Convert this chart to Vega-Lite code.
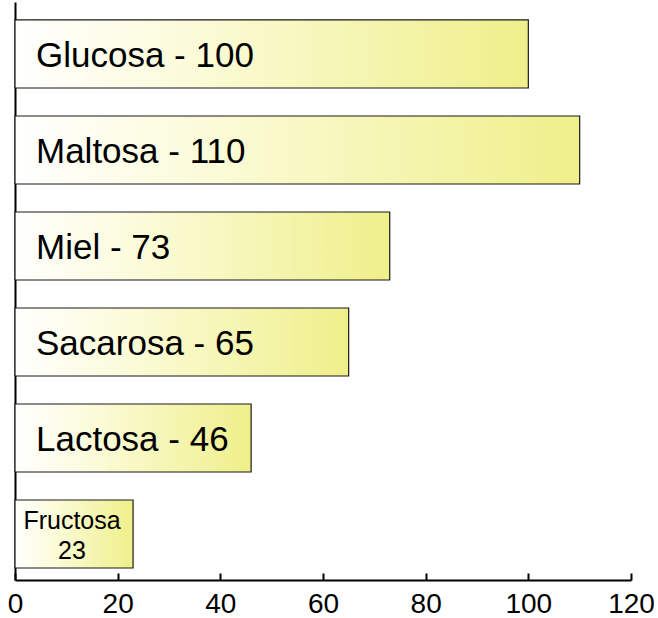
{
  "$schema": "https://vega.github.io/schema/vega-lite/v6.json",
  "width": 616,
  "height": 578,
  "autosize": {"type": "none"},
  "padding": {"left": 15, "top": 2, "right": 27, "bottom": 38},
  "background": "white",
  "config": {"view": {"stroke": null}, "font": "Liberation Sans"},
  "data": {
    "values": [
      {"name": "Glucosa", "value": 100, "label": "Glucosa - 100", "small": false},
      {"name": "Maltosa", "value": 110, "label": "Maltosa - 110", "small": false},
      {"name": "Miel", "value": 73, "label": "Miel - 73", "small": false},
      {"name": "Sacarosa", "value": 65, "label": "Sacarosa - 65", "small": false},
      {"name": "Lactosa", "value": 46, "label": "Lactosa - 46", "small": false},
      {"name": "Fructosa", "value": 23, "label": "Fructosa\n23", "small": true}
    ]
  },
  "encoding": {
    "y": {
      "field": "name",
      "type": "nominal",
      "sort": null,
      "scale": {"paddingInner": 0.2917, "paddingOuter": 0.156, "align": 0.6},
      "axis": {"labels": false, "ticks": false, "title": null, "domainColor": "black", "domainWidth": 2, "grid": false}
    }
  },
  "layer": [
    {
      "mark": {
        "type": "bar",
        "stroke": "#1a1a1a",
        "strokeWidth": 1.2,
        "color": {
          "gradient": "linear",
          "x1": 0, "x2": 1, "y1": 0, "y2": 0,
          "stops": [
            {"offset": 0, "color": "#ffffff"},
            {"offset": 0.35, "color": "#fbfbd8"},
            {"offset": 1, "color": "#efef8a"}
          ]
        }
      },
      "encoding": {
        "x": {
          "field": "value",
          "type": "quantitative",
          "scale": {"domain": [0, 120], "nice": false},
          "axis": {
            "values": [0, 20, 40, 60, 80, 100, 120],
            "title": null,
            "grid": false,
            "domainColor": "black",
            "domainWidth": 2,
            "tickColor": "black",
            "tickWidth": 2,
            "tickSize": -7,
            "labelFlush": false,
            "labelPadding": 17,
            "labelFontSize": 28,
            "labelColor": "black",
            "labelFont": "Liberation Sans"
          }
        }
      }
    },
    {
      "transform": [{"filter": "!datum.small"}],
      "mark": {"type": "text", "align": "left", "baseline": "middle", "dx": 21, "dy": 2, "fontSize": 35, "color": "black"},
      "encoding": {
        "x": {"datum": 0, "type": "quantitative"},
        "text": {"field": "label"}
      }
    },
    {
      "transform": [{"filter": "datum.small"}],
      "mark": {"type": "text", "align": "center", "baseline": "middle", "dx": 57, "dy": -13, "fontSize": 25, "lineHeight": 30, "lineBreak": "\n", "color": "black"},
      "encoding": {
        "x": {"datum": 0, "type": "quantitative"},
        "text": {"field": "label"}
      }
    }
  ]
}
